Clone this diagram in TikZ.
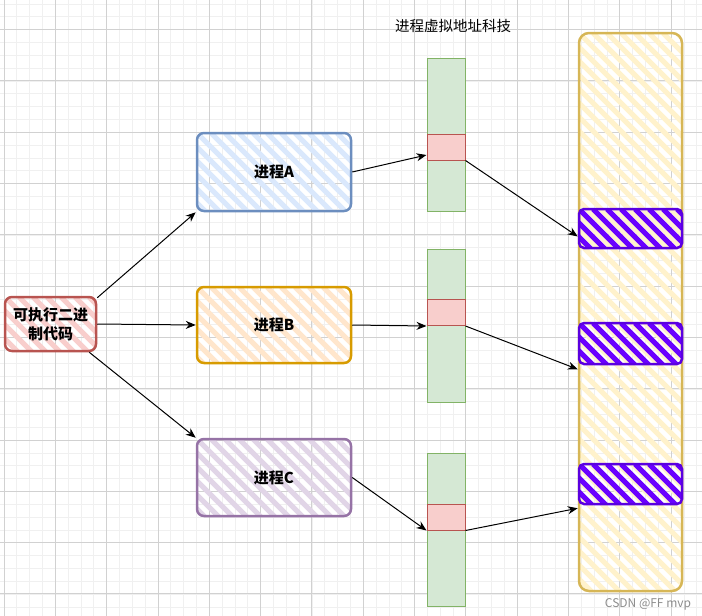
\documentclass[tikz,border=0pt]{standalone}
\usepackage{fontspec}
\setmainfont{Noto Sans CJK SC}
\usetikzlibrary{shapes}
\usetikzlibrary{arrows.meta}
\definecolor{redline}{HTML}{B85450}
\definecolor{redfill}{HTML}{F8CECC}
\definecolor{blueline}{HTML}{6C8EBF}
\definecolor{bluefill}{HTML}{DAE8FC}
\definecolor{orangeline}{HTML}{D79B00}
\definecolor{orangefill}{HTML}{FFE6CC}
\definecolor{violetline}{HTML}{9673A6}
\definecolor{violetfill}{HTML}{E1D5E7}
\definecolor{greenline}{HTML}{82B366}
\definecolor{greenfill}{HTML}{D5E8D4}
\definecolor{yellowline}{HTML}{D6B656}
\definecolor{yellowfill}{HTML}{FFF2CC}
\definecolor{purpleline}{HTML}{5A00E0}
\definecolor{purplefill}{HTML}{6A00FF}
\tikzset{
	hatch/.style 2 args = {path picture={
		\foreach \k in {0,...,90}
			\draw[#1, line width=#2] ([xshift=\k*14pt-700pt]path picture bounding box.north west) -- ++(700pt,-700pt);
	}},% hachures
	grid_min/.style = {draw=black!6, line width=0.8pt},% grille fine
	grid_maj/.style = {draw=black!18, line width=0.8pt},% grille forte
	boxnode/.style = {align=center, inner sep=0pt, rectangle, rounded corners=7pt,
		line width=2.5pt, font=\bfseries\fontsize{15}{19}\selectfont},
	exe_r/.style = {boxnode, draw=redline, hatch={redfill}{5pt},
		minimum width=91pt, minimum height=54pt},% code binaire
	proc_b/.style = {boxnode, draw=blueline, hatch={bluefill}{5pt},
		minimum width=154pt, minimum height=78pt},% processus bleu
	proc_o/.style = {boxnode, draw=orangeline, hatch={orangefill}{5pt},
		minimum width=154pt, minimum height=76pt},% processus orange
	proc_v/.style = {boxnode, draw=violetline, hatch={violetfill}{5pt},
		minimum width=154pt, minimum height=77pt},% processus violet
	col_g/.style = {rectangle, draw=greenline, fill=greenfill, line width=1pt,
		minimum width=38pt, minimum height=153pt, inner sep=0pt},% espace virtuel
	seg_r/.style = {rectangle, draw=redline, fill=redfill, line width=1pt,
		minimum width=38pt, minimum height=26pt, inner sep=0pt},% segment
	mem_y/.style = {rectangle, rounded corners=10pt, draw=yellowline, line width=2.5pt,
		hatch={yellowfill}{5pt}, minimum width=103pt, minimum height=558pt},% memoire
	blk_p/.style = {rectangle, rounded corners=5pt, draw=purpleline, line width=2.5pt,
		hatch={purplefill}{5pt}, minimum width=103pt, inner sep=0pt},% bloc physique
	link/.style = {->, line width=1pt, black}
}
\begin{document}
\begin{tikzpicture}[x=1pt,y=-1pt,>={Stealth[length=10pt,width=8pt]}]
	\useasboundingbox (0,0) rectangle (702,616);
	\foreach \i in {0,...,54}
		\draw[grid_min] (4+\i*12.83,0) -- (4+\i*12.83,616);
	\foreach \i in {0,...,48}
		\draw[grid_min] (0,4+\i*12.83) -- (702,4+\i*12.83);
	\foreach \i in {0,...,13}
		\draw[grid_maj] (4+\i*51.3,0) -- (4+\i*51.3,616);
	\foreach \i in {0,...,11}
		\draw[grid_maj] (0,29.5+\i*51.3) -- (702,29.5+\i*51.3);

	\node[font=\fontsize{14.5}{16}\selectfont] (title) at (453,26) {进程虚拟地址科技};

	\node[exe_r] (exe) at (50.5,324) {可执行二进\\制代码};
	\node[proc_b] (pa) at (274,172) {进程A};
	\node[proc_o] (pb) at (274,325) {进程B};
	\node[proc_v] (pc) at (274,477.5) {进程C};

	\node[col_g] (va) at (446,134.5) {};
	\node[col_g] (vb) at (446,325.5) {};
	\node[col_g] (vc) at (446,529.5) {};
	\node[seg_r] (sa) at (446,147) {};
	\node[seg_r] (sb) at (446,312.5) {};
	\node[seg_r] (sc) at (446,517) {};

	\node[mem_y] (mem) at (630.5,312) {};
	\node[blk_p, minimum height=39pt] (ma) at (630.5,228.5) {};
	\node[blk_p, minimum height=41pt] (mb) at (630.5,343.5) {};
	\node[blk_p, minimum height=40pt] (mc) at (630.5,484) {};

	\draw[link] ([yshift=-2pt]exe.north east) -- (pa.south west);
	\draw[link] (exe.east) -- (pb.west);
	\draw[link] ([xshift=-8pt]exe.south east) -- (pc.north west);
	\draw[link] (pa.east) -- ([yshift=-8pt]sa.west);
	\draw[link] (pb.east) -- (sb.south west);
	\draw[link] (pc.east) -- (sc.south west);
	\draw[link] (sa.south east) -- ([yshift=-8pt]ma.west);
	\draw[link] (sb.south east) -- ([yshift=-4pt]mb.south west);
	\draw[link] (sc.south east) -- ([yshift=-3pt]mc.south west);

	\node[text=black!45, font=\fontsize{12}{14}\selectfont] (mark) at (648,604) {CSDN @FF mvp};
\end{tikzpicture}
\end{document}
